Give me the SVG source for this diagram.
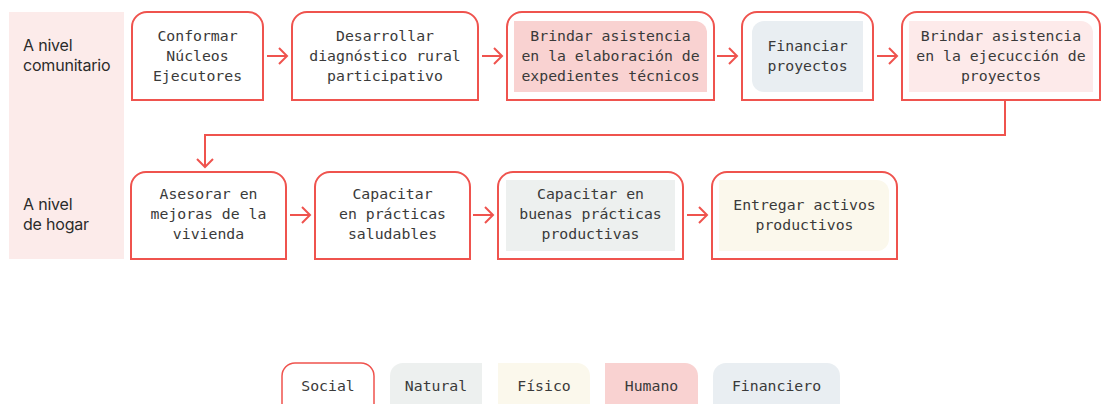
<svg xmlns="http://www.w3.org/2000/svg" width="1102" height="404" viewBox="0 0 1102 404">
<style>
.box{fill:#fff;stroke:#ef534e;stroke-width:2}
.t{font-family:"DejaVu Sans Mono","Liberation Mono",monospace;font-size:14.8px;fill:#3a3a3a;text-anchor:middle}
.lbl{font-family:Inter,"Liberation Sans",sans-serif;font-size:16px;fill:#2b2b2b;letter-spacing:-0.2px}
.con{fill:none;stroke:#ef534e;stroke-width:2}
</style>
<defs>
<marker id="ah" markerWidth="12" markerHeight="18" refX="10" refY="9" orient="auto" markerUnits="userSpaceOnUse">
<path d="M2,1 L10,9 L2,17" fill="none" stroke="#ef534e" stroke-width="2"/>
</marker>
</defs>
<rect x="9" y="12" width="115" height="247" fill="#fcebea"/>
<g id="lane1"><text class="lbl" x="23" y="51">A nivel</text><text class="lbl" x="23" y="71">comunitario</text></g>
<g id="lane2"><text class="lbl" x="23" y="210">A nivel</text><text class="lbl" x="23" y="230">de hogar</text></g>

<g id="n1"><path class="box" d="M132,100 V27 A15,15 0 0 1 147,12 H248 A15,15 0 0 1 263,27 V100 Z"/>
<text class="t" x="197.5" y="41">Conformar</text><text class="t" x="197.5" y="61">Núcleos</text><text class="t" x="197.5" y="81">Ejecutores</text></g>
<g id="n2"><path class="box" d="M292,100 V27 A15,15 0 0 1 307,12 H463 A15,15 0 0 1 478,27 V100 Z"/>
<text class="t" x="385" y="41">Desarrollar</text><text class="t" x="385" y="61">diagnóstico rural</text><text class="t" x="385" y="81">participativo</text></g>
<g id="n3"><path class="box" d="M507,100 V27 A15,15 0 0 1 522,12 H699 A15,15 0 0 1 714,27 V100 Z"/>
<path d="M514,92 V21 H695 A12,12 0 0 1 707,33 V92 Z" fill="#f9d2d1"/>
<text class="t" x="610.5" y="41">Brindar asistencia</text><text class="t" x="610.5" y="61">en la elaboración de</text><text class="t" x="610.5" y="81">expedientes técnicos</text></g>
<g id="n4"><path class="box" d="M742,100 V27 A15,15 0 0 1 757,12 H858 A15,15 0 0 1 873,27 V100 Z"/>
<path d="M764,21 H863 V92 H764 A12,12 0 0 1 752,80 V33 A12,12 0 0 1 764,21 Z" fill="#e9eef2"/>
<text class="t" x="807.5" y="51">Financiar</text><text class="t" x="807.5" y="71">proyectos</text></g>
<g id="n5"><path class="box" d="M902,100 V27 A15,15 0 0 1 917,12 H1085 A15,15 0 0 1 1100,27 V100 Z"/>
<path d="M909,92 V21 H1081 A12,12 0 0 1 1093,33 V92 Z" fill="#fdeaea"/>
<text class="t" x="1001" y="41">Brindar asistencia</text><text class="t" x="1001" y="61">en la ejecucción de</text><text class="t" x="1001" y="81">proyectos</text></g>

<g id="n6"><path class="box" d="M131,259 V187 A15,15 0 0 1 146,172 H271 A15,15 0 0 1 286,187 V259 Z"/>
<text class="t" x="208.5" y="199">Asesorar en</text><text class="t" x="208.5" y="219">mejoras de la</text><text class="t" x="208.5" y="239">vivienda</text></g>
<g id="n7"><path class="box" d="M315,259 V187 A15,15 0 0 1 330,172 H455 A15,15 0 0 1 470,187 V259 Z"/>
<text class="t" x="392.5" y="199">Capacitar</text><text class="t" x="392.5" y="219">en prácticas</text><text class="t" x="392.5" y="239">saludables</text></g>
<g id="n8"><path class="box" d="M498,259 V187 A15,15 0 0 1 513,172 H668 A15,15 0 0 1 683,187 V259 Z"/>
<rect x="506" y="180" width="169" height="71" fill="#edf0ef"/>
<text class="t" x="590.5" y="199">Capacitar en</text><text class="t" x="590.5" y="219">buenas prácticas</text><text class="t" x="590.5" y="239">productivas</text></g>
<g id="n9"><path class="box" d="M712,259 V187 A15,15 0 0 1 727,172 H882 A15,15 0 0 1 897,187 V259 Z"/>
<path d="M719,180 H877 A12,12 0 0 1 889,192 V239 A12,12 0 0 1 877,251 H719 Z" fill="#fbf8ec"/>
<text class="t" x="804.5" y="210">Entregar activos</text><text class="t" x="804.5" y="230">productivos</text></g>

<g id="connectors">
<path class="con" d="M267,56 H287" marker-end="url(#ah)"/>
<path class="con" d="M482,56 H502" marker-end="url(#ah)"/>
<path class="con" d="M717,56 H737" marker-end="url(#ah)"/>
<path class="con" d="M877,56 H897" marker-end="url(#ah)"/>
<path class="con" d="M1005,100 V135 H205 V167" marker-end="url(#ah)"/>
<path class="con" d="M290,215 H310" marker-end="url(#ah)"/>
<path class="con" d="M473,215 H493" marker-end="url(#ah)"/>
<path class="con" d="M687,215 H707" marker-end="url(#ah)"/>
</g>

<g id="legend">
<g id="lg-social"><path d="M282,405 V376 A13,13 0 0 1 295,363 H361 A13,13 0 0 1 374,376 V405" fill="#fff" stroke="#ef534e" stroke-width="1.5"/><text class="t" x="328" y="391">Social</text></g>
<g id="lg-natural"><path d="M390,404 V376 A13,13 0 0 1 403,363 H482 V404 Z" fill="#edf0ef"/><text class="t" x="436" y="391">Natural</text></g>
<g id="lg-fisico"><path d="M498,404 V363 H577 A13,13 0 0 1 590,376 V404 Z" fill="#fbf8ec"/><text class="t" x="544" y="391">Físico</text></g>
<g id="lg-humano"><path d="M605,404 V363 H685 A13,13 0 0 1 698,376 V404 Z" fill="#f9d2d1"/><text class="t" x="651.5" y="391">Humano</text></g>
<g id="lg-financiero"><path d="M713,404 V376 A13,13 0 0 1 726,363 H827 A13,13 0 0 1 840,376 V404 Z" fill="#e9eef2"/><text class="t" x="776.5" y="391">Financiero</text></g>
</g>
</svg>
